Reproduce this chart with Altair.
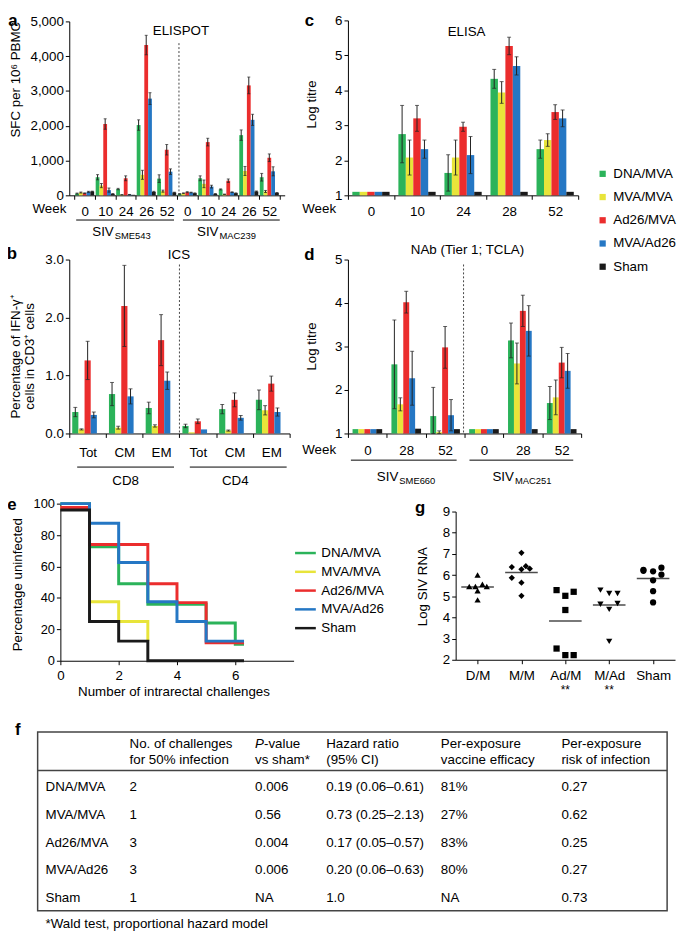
import altair as alt
import pandas as pd

FONT = "Liberation Sans, Arial, Helvetica, sans-serif"
W, H = 677, 930
OFF = 8


def px(v):
    return v - OFF


def py(v):
    return v - OFF


SERIES = ["DNA/MVA", "MVA/MVA", "Ad26/MVA", "MVA/Ad26", "Sham"]
COLORS = ["#2bb35a", "#e8e43a", "#eb2d2d", "#2577c4", "#1a1a1a"]
ERR_COLOR = "#222222"

# ---------------- panel a : ELISPOT ----------------
A_GROUPS = ["SME543 0", "SME543 10", "SME543 24", "SME543 26", "SME543 52",
            "MAC239 0", "MAC239 10", "MAC239 24", "MAC239 26", "MAC239 52"]
A_MEAN = {
    "DNA/MVA":  [50, 520, 180, 2020, 480, 40, 490, 170, 1730, 520],
    "MVA/MVA":  [80, 280, 15, 590, 120, 60, 330, 30, 700, 110],
    "Ad26/MVA": [60, 2050, 490, 4320, 1310, 90, 1530, 420, 3160, 1080],
    "MVA/Ad26": [100, 150, 20, 2780, 680, 80, 250, 90, 2170, 690],
    "Sham":     [110, 40, 15, 100, 80, 60, 40, 60, 110, 70],
}
A_ERR = {
    "DNA/MVA":  [15, 75, 20, 150, 110, 10, 70, 15, 150, 110],
    "MVA/MVA":  [15, 60, 5, 130, 30, 10, 110, 5, 130, 30],
    "Ad26/MVA": [10, 150, 70, 280, 150, 15, 110, 50, 240, 110],
    "MVA/Ad26": [15, 60, 5, 170, 80, 10, 40, 10, 160, 130],
    "Sham":     [10, 10, 0, 15, 10, 10, 10, 10, 15, 10],
}

# ---------------- panel c : ELISA ----------------
C_GROUPS = ["0", "10", "24", "28", "52"]
C_MEAN = {
    "DNA/MVA":  [1.1, 2.75, 1.64, 4.33, 2.32],
    "MVA/MVA":  [1.1, 2.08, 2.08, 3.94, 2.58],
    "Ad26/MVA": [1.1, 3.20, 2.96, 5.27, 3.38],
    "MVA/Ad26": [1.1, 2.32, 2.15, 4.70, 3.20],
    "Sham":     [1.1, 1.1, 1.1, 1.1, 1.1],
}
C_ERR = {
    "DNA/MVA":  [0, 0.82, 0.52, 0.27, 0.26],
    "MVA/MVA":  [0, 0.50, 0.50, 0.31, 0.18],
    "Ad26/MVA": [0, 0.37, 0.13, 0.25, 0.21],
    "MVA/Ad26": [0, 0.26, 0.53, 0.26, 0.24],
    "Sham":     [0, 0, 0, 0, 0],
}

# ---------------- panel b : ICS ----------------
B_GROUPS = ["CD8 Tot", "CD8 CM", "CD8 EM", "CD4 Tot", "CD4 CM", "CD4 EM"]
B_MEAN = {
    "DNA/MVA":  [0.37, 0.68, 0.44, 0.13, 0.42, 0.58],
    "MVA/MVA":  [0.07, 0.10, 0.13, 0.02, 0.05, 0.40],
    "Ad26/MVA": [1.26, 2.20, 1.61, 0.21, 0.58, 0.86],
    "MVA/Ad26": [0.32, 0.64, 0.91, 0.07, 0.27, 0.37],
}
B_ERR = {
    "DNA/MVA":  [0.08, 0.20, 0.10, 0.03, 0.08, 0.17],
    "MVA/MVA":  [0.01, 0.025, 0.02, 0.0, 0.01, 0.08],
    "Ad26/MVA": [0.33, 0.70, 0.44, 0.04, 0.12, 0.13],
    "MVA/Ad26": [0.05, 0.13, 0.15, 0.0, 0.04, 0.07],
}

# ---------------- panel d : NAb ----------------
D_GROUPS = ["SME660 0", "SME660 28", "SME660 52", "MAC251 0", "MAC251 28", "MAC251 52"]
D_MEAN = {
    "DNA/MVA":  [1.1, 2.59, 1.40, 1.1, 3.14, 1.70],
    "MVA/MVA":  [1.1, 1.67, 1.03, 1.1, 2.61, 1.83],
    "Ad26/MVA": [1.1, 4.02, 2.98, 1.1, 3.82, 2.63],
    "MVA/Ad26": [1.1, 2.27, 1.42, 1.1, 3.36, 2.44],
    "Sham":     [1.1, 1.11, 1.1, 1.1, 1.1, 1.1],
}
D_ERR = {
    "DNA/MVA":  [0, 1.02, 0.66, 0, 0.40, 0.38],
    "MVA/MVA":  [0, 0.15, 0.03, 0, 0.47, 0.40],
    "Ad26/MVA": [0, 0.25, 0.48, 0, 0.36, 0.35],
    "MVA/Ad26": [0, 0.62, 0.36, 0, 0.58, 0.40],
    "Sham":     [0, 0, 0, 0, 0, 0],
}

# ---------------- panel e : Kaplan-Meier ----------------
E_X = {
    "DNA/MVA":  [0, 1, 2, 3, 5, 6, 6.3],
    "MVA/MVA":  [0, 1, 2, 3],
    "Ad26/MVA": [0, 1, 3, 4, 5, 6.3],
    "MVA/Ad26": [0, 1, 2, 3, 4, 5, 6.3],
    "Sham":     [0, 1, 2, 3, 6.3],
}
E_Y = {
    "DNA/MVA":  [100, 72.5, 49, 36, 24, 10.5, 10.5],
    "MVA/MVA":  [97.5, 37.5, 25, 12.5],
    "Ad26/MVA": [97.5, 74, 49, 37, 11.5, 11.5],
    "MVA/Ad26": [100, 87.5, 62.5, 37.5, 25, 12.5, 12.5],
    "Sham":     [96, 25, 12.5, 0, 0],
}

# ---------------- panel g : viral load ----------------
G_CATS = ["D/M", "M/M", "Ad/M", "M/Ad", "Sham"]
G_SHAPES = ["triangle-up", "diamond", "square", "triangle-down", "circle"]
G_VALS = {
    "D/M":  [6.0, 5.46, 5.46, 5.57, 5.46, 5.26, 4.83],
    "M/M":  [7.05, 6.38, 6.42, 6.27, 6.30, 5.87, 5.64, 5.02],
    "Ad/M": [5.29, 5.02, 5.21, 4.35, 2.53, 2.22, 2.22],
    "M/Ad": [5.29, 5.13, 5.13, 4.62, 4.38, 4.66, 2.87],
    "Sham": [6.25, 6.20, 6.18, 6.35, 6.02, 5.75, 5.24, 4.71],
}
G_JIT = {
    "D/M":  [0.0, -0.19, -0.05, 0.11, 0.21, 0.0, 0.0],
    "M/M":  [0.0, -0.22, 0.10, 0.0, 0.19, -0.22, 0.0, 0.0],
    "Ad/M": [-0.20, 0.0, 0.19, 0.0, -0.20, 0.0, 0.19],
    "M/Ad": [-0.20, 0.0, 0.19, -0.20, 0.0, 0.19, 0.0],
    "Sham": [-0.22, -0.22, 0.0, 0.19, 0.19, 0.0, 0.0, 0.0],
}
G_SIG = ["", "", "**", "**", ""]

# ---------------- table f ----------------
TBL_ROWS = ["DNA/MVA", "MVA/MVA", "Ad26/MVA", "MVA/Ad26", "Sham"]
TBL_N50 = ["2", "1", "3", "3", "1"]
TBL_P = ["0.006", "0.56", "0.004", "0.006", "NA"]
TBL_HR = ["0.19 (0.06\u20130.61)", "0.73 (0.25\u20132.13)", "0.17  (0.05\u20130.57)",
          "0.20 (0.06\u20130.63)", "1.0"]
TBL_VE = ["81%", "27%", "83%", "80%", "NA"]
TBL_RISK = ["0.27", "0.62", "0.25", "0.27", "0.73"]


# ================= helpers =================
def ax(orient, offset, **kw):
    d = dict(orient=orient, offset=offset, title=None, grid=False,
             domainColor="black", tickColor="black", labelColor="black",
             labelFont=FONT, labelFontSize=13.5, tickSize=4, domainWidth=1,
             tickWidth=1, labelFlush=False)
    d.update(kw)
    return alt.Axis(**d)


def bar_layers(groups, means, errs, base, xr, po_x, po_off, yr, ydom,
               xaxis, yaxis, legend=None, cap=4):
    rows = []
    for s, vals in means.items():
        for g, m, e in zip(groups, vals, errs[s]):
            rows.append({"series": s, "grp": g, "mean": m, "base": base,
                         "lo": max(m - e, base), "hi": m + e, "err": e})
    df = pd.DataFrame(rows)
    xs = alt.Scale(type="band", domain=groups, range=[px(xr[0]), px(xr[1])],
                   paddingInner=0, paddingOuter=po_x)
    xo = alt.Scale(type="band", domain=SERIES, paddingInner=0, paddingOuter=po_off)
    ys = alt.Scale(type="linear", domain=ydom, range=[py(yr[0]), py(yr[1])],
                   nice=False, zero=False)
    cs = alt.Scale(domain=SERIES, range=COLORS)
    XO = alt.XOffset("series:N", scale=xo)
    bars = alt.Chart(df).mark_bar().encode(
        x=alt.X("grp:N", scale=xs, axis=xaxis),
        xOffset=XO,
        y=alt.Y("mean:Q", scale=ys, axis=yaxis),
        y2="base:Q",
        color=alt.Color("series:N", scale=cs, legend=legend),
    )
    eb = alt.Chart(df[df["err"] > 0])
    rule = eb.mark_rule(color=ERR_COLOR, strokeWidth=1).encode(
        x=alt.X("grp:N", scale=xs, axis=None), xOffset=XO,
        y=alt.Y("lo:Q", scale=ys, axis=None), y2="hi:Q")
    cap_hi = eb.mark_tick(orient="horizontal", size=cap, thickness=1, color=ERR_COLOR).encode(
        x=alt.X("grp:N", scale=xs, axis=None), xOffset=XO,
        y=alt.Y("hi:Q", scale=ys, axis=None))
    cap_lo = eb.mark_tick(orient="horizontal", size=cap, thickness=1, color=ERR_COLOR).encode(
        x=alt.X("grp:N", scale=xs, axis=None), xOffset=XO,
        y=alt.Y("lo:Q", scale=ys, axis=None))
    return [bars, rule, cap_hi, cap_lo]


def texts(items, **kw):
    df = pd.DataFrame([{"x": px(x), "y": py(y), "t": t} for (t, x, y) in items])
    style = dict(font=FONT, fontSize=13.5, color="black", baseline="middle")
    style.update(kw)
    return alt.Chart(df).mark_text(**style).encode(
        x=alt.X("x:Q", scale=None, axis=None),
        y=alt.Y("y:Q", scale=None, axis=None),
        text="t:N")


def segs(items, **kw):
    df = pd.DataFrame([{"x": px(a), "y": py(b), "x2": px(c), "y2": py(d)}
                       for (a, b, c, d) in items])
    style = dict(color="black", strokeWidth=1)
    style.update(kw)
    return alt.Chart(df).mark_rule(**style).encode(
        x=alt.X("x:Q", scale=None, axis=None),
        y=alt.Y("y:Q", scale=None, axis=None),
        x2="x2:Q", y2="y2:Q")


layers = []

# ---- a
layers += bar_layers(
    A_GROUPS, A_MEAN, A_ERR, 0, (70, 288), 0.25, 0.2, (192, 16), [0, 5000],
    ax("bottom", py(192) - H, tickBand="extent", labelAngle=0, labelPadding=5,
       labelExpr="split(datum.label, ' ')[1]"),
    ax("left", -px(70), values=[0, 1000, 2000, 3000, 4000, 5000], format=",.0f", labelPadding=2),
    cap=3)

# ---- c
legend_bars = alt.Legend(orient="none", legendX=px(603), legendY=py(163.5), title=None,
                         symbolType="square", symbolSize=40, symbolStrokeWidth=0,
                         labelFont=FONT, labelFontSize=13.5, labelColor="black",
                         rowPadding=8.5, padding=0, offset=0, labelOffset=4)
layers += bar_layers(
    C_GROUPS, C_MEAN, C_ERR, 1, (352, 585), 0, 0.59, (192, 15), [1, 6],
    ax("bottom", py(192) - H, tickBand="extent", labelAngle=0, labelPadding=5),
    ax("left", -px(352), values=[1, 2, 3, 4, 5, 6], labelPadding=2),
    legend=legend_bars)

# ---- b
layers += bar_layers(
    B_GROUPS, B_MEAN, B_ERR, 0, (70, 293), 0, 0.48, (433, 257), [0, 3],
    ax("bottom", py(433) - H, tickBand="extent", labelAngle=0, labelPadding=8,
       labelExpr="split(datum.label, ' ')[1]"),
    ax("left", -px(70), values=[0, 1, 2, 3], format=".1f", labelPadding=2))

# ---- d
layers += bar_layers(
    D_GROUPS, D_MEAN, D_ERR, 1, (352, 588), 0, 0.78, (433, 257), [1, 5],
    ax("bottom", py(433) - H, tickBand="extent", labelAngle=0, labelPadding=6,
       labelExpr="split(datum.label, ' ')[1]"),
    ax("left", -px(352), values=[1, 2, 3, 4, 5], labelPadding=2))

# ---- e
e_rows = []
for s in SERIES:
    for xv, yv in zip(E_X[s], E_Y[s]):
        e_rows.append({"series": s, "x": xv, "pct": yv})
e_df = pd.DataFrame(e_rows)
legend_lines = alt.Legend(orient="none", legendX=px(297), legendY=py(542), title=None,
                          symbolType="stroke", symbolSize=441, symbolStrokeWidth=2.5,
                          labelFont=FONT, labelFontSize=13.5, labelColor="black",
                          rowPadding=-1.3, padding=0, offset=0, labelOffset=4)
layers.append(
    alt.Chart(e_df).mark_line(interpolate="step-after", strokeWidth=3).encode(
        x=alt.X("x:Q", scale=alt.Scale(domain=[0, 8], range=[px(61), px(297)], nice=False, zero=False),
                axis=ax("bottom", py(663) - H, values=[0, 2, 4, 6], labelPadding=4)),
        y=alt.Y("pct:Q", scale=alt.Scale(domain=[0, 100], range=[py(663), py(504)], nice=False, zero=False),
                axis=ax("left", -px(61), values=[0, 20, 40, 60, 80, 100], labelPadding=2, labelFontSize=13)),
        color=alt.Color("series:N", scale=alt.Scale(domain=SERIES, range=COLORS), legend=legend_lines),
    )
)

# ---- g
g_rows = []
for i, c in enumerate(G_CATS):
    for v, j in zip(G_VALS[c], G_JIT[c]):
        g_rows.append({"grp": c, "pos": i + 1 + j, "val": v})
g_df = pd.DataFrame(g_rows)
g_mean = g_df.groupby("grp", sort=False)["val"].mean().reset_index()
g_mean["idx"] = [G_CATS.index(c) + 1 for c in g_mean["grp"]]
g_sig = pd.DataFrame({"idx": list(range(1, 6)), "sig": G_SIG})
gx = alt.Scale(domain=[0.5, 5.5], range=[px(461), px(683)], nice=False, zero=False)
gy = alt.Scale(domain=[2, 9], range=[py(662), py(512)], nice=False, zero=False)
g_label_expr = "[" + ",".join("'%s'" % c for c in G_CATS) + "][datum.value - 1]"
layers.append(
    alt.Chart(g_df).mark_point(filled=True, color="black", size=40, opacity=1).encode(
        x=alt.X("pos:Q", scale=gx,
                axis=ax("bottom", py(662) - H, values=[1, 2, 3, 4, 5], labelExpr=g_label_expr,
                        labelPadding=5)),
        y=alt.Y("val:Q", scale=gy,
                axis=ax("left", -px(461), values=[2, 3, 4, 5, 6, 7, 8, 9], labelPadding=2)),
        shape=alt.Shape("grp:N", scale=alt.Scale(domain=G_CATS, range=G_SHAPES), legend=None),
    )
)
layers.append(
    alt.Chart(g_mean).mark_tick(orient="horizontal", size=33, thickness=1.5, color="black").encode(
        x=alt.X("idx:Q", scale=gx, axis=None),
        y=alt.Y("val:Q", scale=gy, axis=None),
    )
)
layers.append(
    alt.Chart(g_sig).mark_text(font=FONT, fontSize=12, color="black", baseline="middle").encode(
        x=alt.X("idx:Q", scale=gx, axis=None),
        y=alt.value(py(693)),
        text="sig:N",
    )
)

# ---- decorations: dividers & underlines
layers.append(segs([(181, 38, 181, 192), (181.5, 262, 181.5, 433), (469, 262, 469, 433)],
                   strokeDash=[2, 2], color="#444444"))
layers.append(segs([(77, 217, 176, 217), (185, 217, 283, 217),
                    (78, 467, 176, 467), (192, 467, 290, 467),
                    (355, 460, 462, 460), (475, 460, 580, 460)]))

# ---- annotation texts
layers.append(texts([("ELISPOT", 183, 26), ("ELISA", 472, 27), ("ICS", 181, 252),
                     ("NAb (Tier 1; TCLA)", 473, 247), ("CD8", 127, 481), ("CD4", 238, 481),
                     ("Number of intrarectal challenges", 176, 695)], align="center"))
layers.append(texts([("Week", 67, 206), ("Week", 340, 206), ("Week", 340, 450),
                     ("SIV", 115, 229), ("SIV", 221, 229), ("SIV", 403, 477), ("SIV", 520, 477)],
                    align="right"))
layers.append(texts([("SME543", 116, 233), ("MAC239", 222, 233),
                     ("SME660", 404, 481), ("MAC251", 521, 481)], align="left", fontSize=9.5))
layers.append(texts([("SFC per 10\u2076 PBMC", 16, 75),
                     ("Percentage of IFN-\u03b3\u207a", 16, 355), ("cells in CD3\u207a cells", 30, 355),
                     ("Log titre", 316, 100), ("Log titre", 316, 345),
                     ("Percentage uninfected", 18, 586), ("Log SIV RNA", 428, 588)],
                    align="center", angle=270, fontSize=13.5))
layers.append(texts([("a", 13, 16), ("c", 313, 16), ("b", 12, 251), ("d", 313, 252),
                     ("e", 12, 505), ("g", 425, 508), ("f", 18, 733)],
                    align="center", fontSize=17, fontWeight="bold"))

# ---- table f
TOP, DIV, BOT = 735, 774, 916
layers.append(
    alt.Chart(pd.DataFrame([{"x": px(38), "y": py(TOP), "x2": px(675), "y2": py(BOT)}]))
    .mark_rect(fill="transparent", stroke="#444444", strokeWidth=1.5)
    .encode(x=alt.X("x:Q", scale=None, axis=None), y=alt.Y("y:Q", scale=None, axis=None),
            x2="x2:Q", y2="y2:Q")
)
layers.append(segs([(38, DIV, 675, DIV)], color="#444444", strokeWidth=1.5))
COL_X = [46, 131, 258, 330, 446, 568]
tbl = pd.DataFrame({"row": TBL_ROWS, "c0": TBL_ROWS, "c1": TBL_N50, "c2": TBL_P,
                    "c3": TBL_HR, "c4": TBL_VE, "c5": TBL_RISK})
tbl_y = alt.Scale(type="point", domain=TBL_ROWS, range=[py(791), py(903)], padding=0)
for k, xc in enumerate(COL_X):
    layers.append(
        alt.Chart(tbl).mark_text(font=FONT, fontSize=13.5, color="black", align="left",
                                 baseline="middle").encode(
            x=alt.value(px(xc)),
            y=alt.Y("row:N", scale=tbl_y, axis=None),
            text="c%d:N" % k,
        )
    )
HL1, HL2 = 747, 763
layers.append(texts([("No. of challenges", 131, HL1), ("for 50% infection", 131, HL2),
                     ("-value", 267, HL1), ("vs sham*", 258, HL2),
                     ("Hazard ratio", 330, HL1), ("(95% CI)", 330, HL2),
                     ("Per-exposure", 446, HL1), ("vaccine efficacy", 446, HL2),
                     ("Per-exposure", 568, HL1), ("risk of infection", 568, HL2),
                     ("*Wald test, proportional hazard model", 46, 929)], align="left"))
layers.append(texts([("P", 258, HL1)], align="left", fontStyle="italic"))

chart = (
    alt.layer(*layers)
    .resolve_scale(x="independent", y="independent", color="independent",
                   xOffset="independent", shape="independent")
    .resolve_axis(x="independent", y="independent")
    .resolve_legend(color="independent", shape="independent")
    .properties(width=W, height=H, autosize=alt.AutoSizeParams(type="none"), padding=0,
                background="white")
    .configure_view(strokeWidth=0)
)

chart.save("out.html", embed_options={"renderer": "svg", "actions": False})
